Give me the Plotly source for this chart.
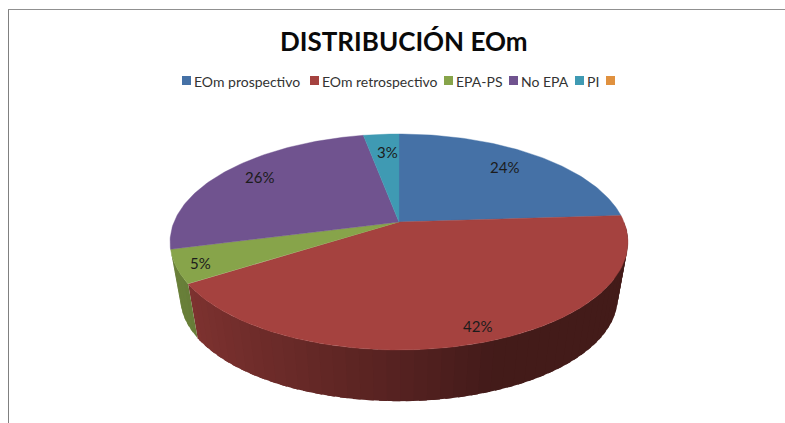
import numpy as np
import plotly.graph_objects as go

title = "DISTRIBUCIÓN EOm"
categories = ["EOm prospectivo", "EOm retrospectivo", "EPA-PS", "No EPA", "PI", ""]
values = [24, 42, 5, 26, 3, 0]
colors = ["#4571a6", "#a5423f", "#87a44a", "#70538f", "#3f9ab3", "#e0913f"]
legend_x = [182, 310, 444, 509, 575, 606]
label_nudge = [(-9, 2), (11, 8), (-16, 4), (6, -2), (4, 5), (0, 0)]

# Projection of the tilted disc onto the page (pixels)
CX, CY, A, B, K = 399, 222, 225, 104.3, 0.185
DEPTH, SHRINK = 57, 0.955


def project(theta, r=1.0, bottom=False):
    s, c = np.sin(theta), np.cos(theta)
    d = 1 + K * r * c
    scale = SHRINK if bottom else 1.0
    return (CX + scale * A * r * s / d,
            CY + (DEPTH if bottom else 0) - scale * B * r * c / d)


def shade(hex_color, f):
    rgb = [int(hex_color[i:i + 2], 16) for i in (1, 3, 5)]
    return "rgb({},{},{})".format(*[int(v * f) for v in rgb])


fig = go.Figure()
total = sum(values)
edges = np.cumsum([0] + values) / total * 2 * np.pi

# Side wall: overlapping strips, drawn right to left
for i, col in enumerate(colors):
    lo, hi = max(edges[i], np.pi / 2), min(edges[i + 1], 1.42 * np.pi)
    if hi <= lo:
        continue
    n = max(2, int((hi - lo) / 0.05))
    ts = np.linspace(lo, hi, n + 1)
    for t0, t1 in zip(ts[:-1], ts[1:]):
        t1x = min(t1 + 0.03, hi)
        t_arc = np.linspace(t0, t1x, 5)
        xt, yt = project(t_arc)
        xb, yb = project(t_arc[::-1], bottom=True)
        f = np.interp(-np.sin((t0 + t1) / 2), [-0.35, 0.0, 0.9], [0.41, 0.52, 0.78])
        c = shade(col, f)
        fig.add_trace(go.Scatter(
            x=list(xt) + list(xb), y=list(yt) + list(yb), mode="lines", fill="toself",
            fillcolor=c, line=dict(width=0), showlegend=False, hoverinfo="skip"))

# Top face
for i, col in enumerate(colors):
    if values[i] == 0:
        continue
    ts = np.linspace(edges[i], edges[i + 1], 90)
    x, y = project(ts)
    fig.add_trace(go.Scatter(
        x=[CX] + list(x) + [CX], y=[CY] + list(y) + [CY], mode="lines", fill="toself",
        fillcolor=col, line=dict(color=col, width=0.4), name=categories[i],
        showlegend=False, hoverinfo="name"))

annotations = []
# Data labels
for i, v in enumerate(values):
    if v == 0:
        continue
    lx, ly = project((edges[i] + edges[i + 1]) / 2, r=0.83)
    annotations.append(dict(x=lx + label_nudge[i][0], y=ly + label_nudge[i][1], text=f"{v}%",
                            showarrow=False,
                            font=dict(family="Lato", size=15, color="#1c1c1c")))

# Title
annotations.append(dict(x=404, y=41, text=f"<b>{title}</b>", showarrow=False,
                        font=dict(family="Lato", size=26, color="#0a0a0a")))

# Legend
shapes = []
for name, col, lx in zip(categories, colors, legend_x):
    shapes.append(dict(type="rect", x0=lx, x1=lx + 9, y0=76, y1=85,
                       fillcolor=col, line=dict(width=0), layer="above"))
    if name:
        annotations.append(dict(x=lx + 10, y=81, text=name, showarrow=False, xanchor="left",
                                font=dict(family="Lato", size=14, color="#333333")))

# Frame
shapes.append(dict(type="line", x0=8.5, x1=8.5, y0=9, y1=423, line=dict(color="#808080", width=1)))
shapes.append(dict(type="line", x0=8, x1=785, y0=9.5, y1=9.5, line=dict(color="#909090", width=1)))

fig.update_layout(
    width=785, height=423, margin=dict(l=0, r=0, t=0, b=0),
    paper_bgcolor="white", plot_bgcolor="white",
    xaxis=dict(range=[0, 785], visible=False, fixedrange=True),
    yaxis=dict(range=[423, 0], visible=False, fixedrange=True),
    annotations=annotations, shapes=shapes, showlegend=False,
)
fig.write_html("out.html", config={"displayModeBar": False},
               post_script="document.body.style.margin='0';document.body.style.overflow='hidden';")
